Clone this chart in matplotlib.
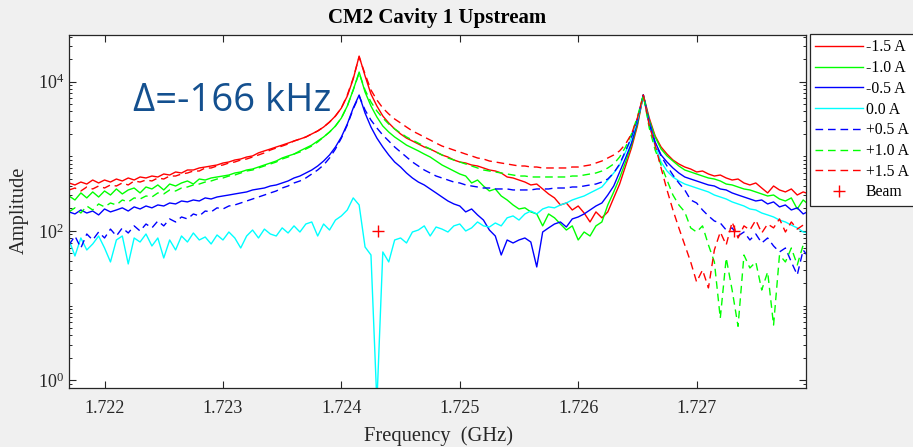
import numpy as np
import matplotlib
matplotlib.use('Agg')
import matplotlib.pyplot as plt
from matplotlib.ticker import LogLocator, LogFormatterMathtext, FixedLocator, FormatStrFormatter, NullFormatter

plt.rcParams['font.family'] = ['Liberation Serif', 'DejaVu Serif']
plt.rcParams['mathtext.fontset'] = 'stix'

# Swept frequency grid (GHz), 50 kHz steps
freq = np.round(1.7217 + 0.00005 * np.arange(126), 5)

# Probe amplitude for each steering-coil current
amp_m15 = [439, 413, 452, 425, 481, 439, 481, 452, 496, 467,
           512, 481, 528, 512, 544, 528, 579, 561, 616, 597,
           655, 655, 697, 718, 741, 764, 812, 838, 891, 919,
           977, 1010, 1110, 1180, 1250, 1330, 1410, 1500, 1600, 1700,
           1810, 1990, 2180, 2460, 2870, 3460, 4420, 6400, 10800, 21900,
           11900, 6800, 4700, 3460, 2790, 2320, 1990, 1750, 1600, 1460,
           1330, 1250, 1140, 1040, 977, 891, 838, 812, 764, 741,
           697, 655, 635, 597, 528, 512, 481, 452, 413, 425,
           365, 313, 277, 223, 237, 191, 216, 174, 132, 180,
           150, 180, 277, 425, 741, 1290, 2540, 6600, 3250, 1870,
           1330, 1070, 891, 788, 718, 675, 616, 635, 579, 544,
           561, 512, 481, 496, 439, 413, 439, 376, 323, 400,
           354, 333, 365, 303, 333, 313]
amp_m10 = [294, 260, 323, 277, 333, 285, 343, 303, 365, 313,
           354, 376, 323, 388, 365, 413, 354, 425, 400, 439,
           467, 425, 496, 481, 512, 528, 544, 561, 597, 616,
           655, 675, 718, 764, 812, 864, 948, 1010, 1070, 1180,
           1290, 1410, 1600, 1810, 2110, 2540, 3250, 4700, 7700, 13400,
           7240, 4700, 3350, 2540, 2110, 1810, 1600, 1410, 1290, 1180,
           1070, 977, 864, 764, 697, 635, 579, 544, 439, 481,
           400, 343, 365, 294, 260, 223, 197, 204, 180, 169,
           117, 169, 150, 124, 103, 117, 75.8, 96.9, 85.7, 117,
           132, 223, 333, 512, 838, 1410, 2700, 6600, 3050, 1810,
           1250, 1010, 864, 741, 655, 616, 579, 544, 512, 496,
           467, 425, 413, 388, 365, 354, 333, 313, 294, 303,
           268, 252, 277, 197, 260, 223]
amp_m05 = [180, 169, 191, 174, 185, 164, 197, 180, 191, 204,
           185, 210, 197, 216, 204, 223, 216, 237, 230, 252,
           245, 260, 252, 277, 268, 285, 294, 303, 313, 323,
           333, 354, 365, 376, 400, 413, 439, 467, 512, 544,
           597, 655, 741, 864, 1040, 1330, 1810, 2700, 4420, 6600,
           3790, 2460, 1750, 1330, 1040, 838, 718, 597, 512, 452,
           413, 365, 323, 285, 252, 230, 216, 180, 197, 164,
           140, 103, 85.7, 47.7, 75.8, 69.1, 75.8, 80.6, 71.2, 33.0,
           96.9, 110, 124, 132, 113, 145, 154, 169, 191, 216,
           237, 303, 400, 616, 948, 1500, 2870, 6600, 2870, 1550,
           1040, 838, 697, 597, 528, 496, 467, 439, 413, 400,
           365, 354, 323, 303, 285, 268, 252, 260, 230, 245,
           210, 223, 191, 204, 169, 185]
amp_00 = [75.8, 46.3, 80.6, 55.7, 67.0, 85.7, 59.2, 38.5, 75.8, 85.7,
          36.2, 80.6, 71.2, 91.1, 63.0, 80.6, 43.5, 75.8, 55.7, 85.7,
          71.2, 94.0, 75.8, 83.1, 67.0, 88.4, 75.8, 96.9, 80.6, 59.2,
          85.7, 103, 80.6, 106, 91.1, 85.7, 110, 94.0, 117, 96.9,
          124, 132, 85.7, 124, 103, 140, 159, 191, 277, 223,
          61.1, 47.7, 0.5, 52.4, 38.5, 75.8, 80.6, 69.1, 96.9, 103,
          117, 85.7, 113, 106, 96.9, 117, 124, 100, 110, 132,
          117, 113, 128, 117, 150, 159, 140, 169, 185, 169,
          197, 210, 204, 223, 237, 260, 277, 294, 323, 354,
          388, 481, 597, 764, 1140, 1750, 3050, 6400, 2700, 1370,
          838, 635, 528, 467, 425, 400, 376, 354, 333, 303,
          285, 268, 245, 230, 216, 197, 191, 174, 164, 154,
          140, 132, 120, 110, 96.9, 94.0]
amp_p05 = [65.0, 85.7, 59.2, 91.1, 75.8, 96.9, 80.6, 106, 85.7, 110,
           94.0, 117, 100, 124, 110, 136, 117, 145, 132, 154,
           145, 169, 159, 185, 180, 204, 197, 216, 223, 237,
           252, 268, 285, 303, 323, 343, 376, 400, 439, 467,
           512, 579, 655, 764, 948, 1250, 1750, 2620, 4290, 6400,
           4160, 3050, 2390, 1920, 1600, 1330, 1140, 977, 838, 741,
           655, 597, 544, 512, 481, 452, 439, 413, 400, 388,
           376, 376, 365, 365, 365, 354, 354, 354, 354, 365,
           365, 365, 376, 376, 376, 388, 388, 400, 413, 425,
           452, 496, 597, 788, 1180, 1810, 3150, 6600, 2700, 1500,
           1010, 741, 561, 439, 354, 260, 237, 191, 159, 136,
           128, 103, 110, 85.7, 96.9, 75.8, 91.1, 69.1, 80.6, 63.0,
           52.4, 59.2, 38.5, 25.8, 55.7, 43.5]
amp_p10 = [180, 204, 174, 216, 191, 230, 210, 237, 223, 260,
           245, 277, 268, 294, 285, 323, 313, 354, 343, 376,
           388, 413, 425, 452, 467, 496, 512, 544, 561, 597,
           635, 655, 697, 741, 788, 838, 919, 977, 1070, 1140,
           1250, 1370, 1550, 1810, 2110, 2540, 3250, 4700, 7700, 13000,
           7700, 5320, 4030, 3250, 2700, 2320, 2050, 1810, 1650, 1500,
           1370, 1250, 1140, 1040, 948, 891, 838, 788, 741, 697,
           655, 635, 616, 597, 579, 561, 544, 544, 528, 528,
           528, 528, 528, 528, 528, 544, 544, 561, 579, 597,
           635, 697, 788, 977, 1330, 1990, 3350, 6600, 2390, 1210,
           764, 481, 303, 223, 180, 110, 96.9, 117, 65.0, 38.5,
           6.8, 43.5, 16.2, 5.3, 47.7, 32.0, 38.5, 16.2, 28.3, 5.5,
           47.7, 38.5, 59.2, 35.1, 65.0, 55.7]
amp_p15 = [354, 376, 343, 388, 365, 400, 376, 413, 400, 439,
           413, 467, 452, 481, 467, 512, 496, 544, 544, 579,
           597, 635, 635, 697, 697, 741, 764, 812, 838, 891,
           919, 977, 1040, 1110, 1210, 1290, 1370, 1460, 1600, 1700,
           1810, 1990, 2180, 2460, 2870, 3460, 4420, 6600, 11100, 21300,
           12600, 7700, 5660, 4420, 3680, 3150, 2790, 2460, 2180, 1990,
           1810, 1650, 1500, 1370, 1290, 1210, 1140, 1070, 1010, 948,
           919, 864, 838, 812, 788, 764, 741, 741, 718, 718,
           697, 697, 697, 697, 697, 718, 718, 741, 764, 812,
           864, 948, 1040, 1180, 1460, 1990, 3250, 6600, 2620, 1410,
           697, 354, 191, 110, 65.0, 38.5, 20.8, 30.1, 17.3, 55.7,
           96.9, 65.0, 132, 80.6, 117, 103, 140, 94.0, 124, 110,
           145, 96.9, 132, 106, 120, 136]

beam_freq = [1.72431, 1.72732]
beam_amp = [100, 100]

xtick_vals = [1.722, 1.723, 1.724, 1.725, 1.726, 1.727]

traces = [
    (amp_m15, (1, 0, 0), '-', '-1.5 A'),
    (amp_m10, (0, 1, 0), '-', '-1.0 A'),
    (amp_m05, (0, 0, 1), '-', '-0.5 A'),
    (amp_00, (0, 1, 1), '-', '0.0 A'),
    (amp_p05, (0, 0, 1), '--', '+0.5 A'),
    (amp_p10, (0, 1, 0), '--', '+1.0 A'),
    (amp_p15, (1, 0, 0), '--', '+1.5 A'),
]

fig = plt.figure(figsize=(9.13, 4.47), dpi=100, facecolor='#f0f0f0')
ax = fig.add_axes([0.0756, 0.1309, 0.8067, 0.7919])

for amp, col, ls, lab in traces:
    line, = ax.plot(freq, amp, color=col, linestyle=ls, linewidth=1.0, label=lab)
    if ls == '--':
        line.set_dashes((5.5, 3.5))
ax.plot(beam_freq, beam_amp, linestyle='none', marker='+', color=(1, 0, 0),
        markersize=8, markeredgewidth=1.0, label='Beam')

ax.set_yscale('log')
ax.set_xlim(1.7217, 1.72792)
ax.set_ylim(0.78, 4.26e4)

ax.xaxis.set_major_locator(FixedLocator(xtick_vals))
ax.xaxis.set_major_formatter(FormatStrFormatter('%.3f'))
ax.yaxis.set_major_locator(LogLocator(base=100))
ax.yaxis.set_major_formatter(LogFormatterMathtext(base=10))
ax.yaxis.set_minor_locator(LogLocator(base=10, subs=np.arange(1, 10), numticks=20))
ax.yaxis.set_minor_formatter(NullFormatter())

ax.tick_params(which='both', direction='in', top=True, right=True,
               colors='#262626', labelsize=13)
ax.tick_params(which='major', length=5, width=0.8)
ax.tick_params(which='minor', length=2.5, width=0.7)
ax.tick_params(axis='x', pad=8)
for sp in ax.spines.values():
    sp.set_color('#262626')
    sp.set_linewidth(0.9)

fig.text(437 / 913, 1 - 18 / 447, 'CM2 Cavity 1 Upstream', ha='center', va='center',
         fontsize=15, fontweight='bold', color='black')
fig.text(438 / 913, 1 - 441.5 / 447, 'Frequency  (GHz)', ha='center', va='baseline',
         fontsize=14.8, color='#262626')
fig.text(19 / 913, 1 - 210 / 447, 'Amplitude', ha='center', va='center',
         rotation=90, fontsize=14.8, color='#262626')

fig.text(133 / 913, 1 - 111 / 447, '\u0394=-166 kHz', ha='left', va='baseline',
         fontsize=27.5, family=['Open Sans', 'DejaVu Sans'], color='#14508f')

leg = ax.legend(loc='upper left', bbox_to_anchor=(810 / 913, 1 - 34 / 447),
                bbox_transform=fig.transFigure, borderaxespad=0, fancybox=False,
                framealpha=1, edgecolor='#262626', fontsize=11.3,
                handlelength=3.0, handletextpad=0.2, labelspacing=0.3,
                borderpad=0.35)
leg.get_frame().set_linewidth(0.9)

fig.savefig('out.png', dpi=100, facecolor=fig.get_facecolor())
